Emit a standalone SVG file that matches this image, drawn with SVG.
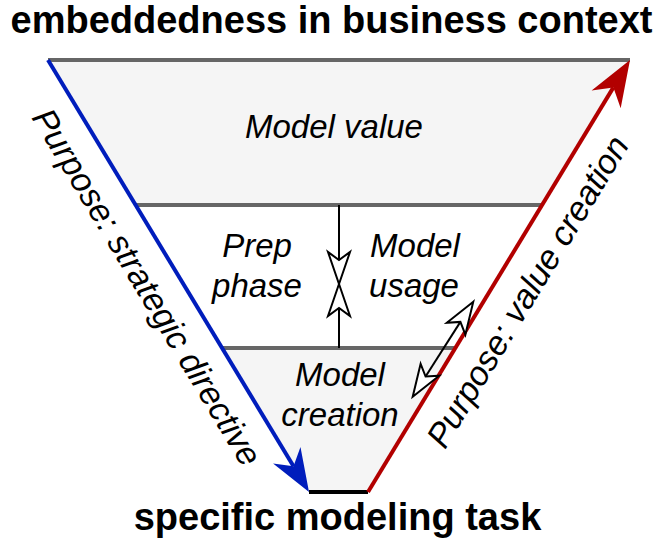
<svg xmlns="http://www.w3.org/2000/svg" width="663" height="538" viewBox="0 0 663 538">
<style>
.title{font-family:"Liberation Sans",Arial,sans-serif;font-weight:bold;font-size:38px;fill:#000;text-anchor:middle}
.lbl{font-family:"Liberation Sans",Arial,sans-serif;font-style:italic;font-size:33px;fill:#000;text-anchor:middle}
.side{font-family:"Liberation Sans",Arial,sans-serif;font-style:italic;font-size:34px;fill:#000;text-anchor:middle}
.sep{stroke:#666;stroke-width:4;fill:none}
.band{fill:#f5f5f5;stroke:none}
.dbl{stroke:#000;stroke-width:2;fill:none}
</style>
<defs>
<marker id="blueHead" markerUnits="userSpaceOnUse" viewBox="-46 -18 50 36" markerWidth="50" markerHeight="36" refX="-30" refY="0" orient="auto">
<path d="M0,0 L-43,-16 L-30,0 L-43,16 Z" fill="#001DBC"/>
</marker>
<marker id="redHead" markerUnits="userSpaceOnUse" viewBox="-50 -20 54 40" markerWidth="54" markerHeight="40" refX="-32" refY="0" orient="auto">
<path d="M0,0 L-46,-17 L-32,0 L-46,17 Z" fill="#B20000"/>
</marker>
<marker id="open" markerUnits="userSpaceOnUse" viewBox="-36 -14 40 28" markerWidth="40" markerHeight="28" refX="-24" refY="0" orient="auto-start-reverse">
<path d="M0,0 L-32,-11 L-24,0 L-32,11 Z" fill="#fff" stroke="#000" stroke-width="2"/>
</marker>
</defs>

<g id="funnel">
<polygon class="band" points="48,60 630,60 542,205 136,205"/>
<polygon class="band" points="222,348 455,348 368,492 309,492"/>
<line class="sep" x1="48" y1="60" x2="630" y2="60"/>
<line class="sep" x1="136" y1="205" x2="542" y2="205"/>
<line class="sep" x1="222" y1="348" x2="455" y2="348"/>
<line x1="309" y1="492" x2="368" y2="492" stroke="#000" stroke-width="4"/>
</g>

<g id="model-value"><text class="lbl" x="334" y="138">Model value</text></g>
<g id="prep-phase"><text class="lbl" x="257" y="257">Prep</text><text class="lbl" x="257" y="297">phase</text></g>
<g id="model-usage"><text class="lbl" x="415" y="257">Model</text><text class="lbl" x="414" y="297">usage</text></g>
<g id="model-creation"><text class="lbl" x="340" y="386">Model</text><text class="lbl" x="340" y="426">creation</text></g>

<g id="connectors">
<line x1="48" y1="60" x2="293.5" y2="466.3" stroke="#001DBC" stroke-width="4" marker-end="url(#blueHead)"/>
<line x1="368" y1="492" x2="613.4" y2="87.4" stroke="#B20000" stroke-width="4" marker-end="url(#redHead)"/>
<line class="dbl" x1="339" y1="205" x2="339" y2="260" marker-end="url(#open)"/>
<line class="dbl" x1="339" y1="348" x2="339" y2="308" marker-end="url(#open)"/>
<line class="dbl" x1="425.6" y1="376.5" x2="460.4" y2="321.9" marker-start="url(#open)" marker-end="url(#open)"/>
</g>

<g id="labels">
<text class="title" x="331.5" y="33">embeddedness in business context</text>
<text class="title" x="337.5" y="530">specific modeling task</text>
<text class="side" transform="translate(137,293) rotate(58.9)">Purpose: strategic directive</text>
<text class="side" transform="translate(537.4,297.5) rotate(-58.8)">Purpose: value creation</text>
</g>
</svg>
